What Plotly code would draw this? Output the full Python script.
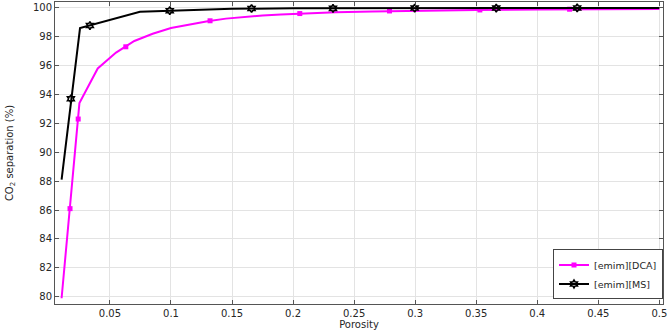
import plotly.graph_objects as go

# [emim][DCA] curve
dca_x = [0.0104, 0.025, 0.04, 0.055, 0.07, 0.085, 0.1, 0.115, 0.13, 0.145, 0.16, 0.175, 0.19, 0.205,
         0.235, 0.265, 0.3, 0.35, 0.4, 0.45, 0.5]
dca_y = [79.9, 93.4, 95.8, 96.9, 97.7, 98.2, 98.6, 98.85, 99.07, 99.25, 99.37, 99.47, 99.54, 99.6,
         99.69, 99.75, 99.8, 99.85, 99.88, 99.9, 99.92]
dca_mx = [0.0173, 0.024, 0.063, 0.132, 0.2055, 0.279, 0.353, 0.4265]
dca_my = [86.1, 92.3, 97.3, 99.1, 99.6, 99.78, 99.85, 99.9]

# [emim][MS] curve
ms_x = [0.0104, 0.0255, 0.0746, 0.1, 0.125, 0.15, 0.2, 0.3, 0.4, 0.5]
ms_y = [88.1, 98.6, 99.73, 99.8, 99.88, 99.93, 99.96, 99.98, 99.99, 99.99]
ms_mx = [0.018, 0.0336, 0.099, 0.166, 0.2327, 0.2996, 0.3664, 0.4327]
ms_my = [93.7, 98.77, 99.8, 99.95, 99.96, 99.98, 99.98, 99.99]

x_ticks = [0.05, 0.1, 0.15, 0.2, 0.25, 0.3, 0.35, 0.4, 0.45, 0.5]
x_ticktext = ["0.05", "0.1", "0.15", "0.2", "0.25", "0.3", "0.35", "0.4", "0.45", "0.5"]
y_ticks = [80, 82, 84, 86, 88, 90, 92, 94, 96, 98, 100]

MAG = "#FF00FF"
BLK = "#000000"
FONT = "DejaVu Sans"

fig = go.Figure()

fig.add_trace(go.Scatter(x=dca_x, y=dca_y, mode="lines", line=dict(color=MAG, width=2),
                         showlegend=False, hoverinfo="skip"))
fig.add_trace(go.Scatter(x=dca_mx, y=dca_my, mode="markers",
                         marker=dict(symbol="square", size=5, color=MAG),
                         showlegend=False))
fig.add_trace(go.Scatter(x=ms_x, y=ms_y, mode="lines", line=dict(color=BLK, width=2),
                         showlegend=False, hoverinfo="skip"))
fig.add_trace(go.Scatter(x=ms_mx, y=ms_my, mode="markers",
                         marker=dict(symbol="hexagram-open", size=6, color=BLK,
                                     line=dict(color=BLK, width=1.6)),
                         showlegend=False))

# legend proxies
fig.add_trace(go.Scatter(x=[None], y=[None], mode="lines+markers", name="[emim][DCA]",
                         line=dict(color=MAG, width=2),
                         marker=dict(symbol="square", size=5, color=MAG)))
fig.add_trace(go.Scatter(x=[None], y=[None], mode="lines+markers", name="[emim][MS]",
                         line=dict(color=BLK, width=2),
                         marker=dict(symbol="hexagram-open", size=6, color=BLK,
                                     line=dict(color=BLK, width=1.6))))

axis_common = dict(
    showgrid=True, gridcolor="#e3e3e3", gridwidth=1,
    showline=True, linecolor="#555555", linewidth=1, mirror="ticks",
    ticks="inside", ticklen=4, tickcolor="#555555",
    zeroline=False,
    tickfont=dict(family=FONT, size=10, color="#262626"),
)

fig.update_xaxes(range=[0.005, 0.503], tickvals=x_ticks, ticktext=x_ticktext,
                 title=dict(text="Porosity", font=dict(family=FONT, size=10, color="#262626"),
                            standoff=2),
                 **axis_common)
fig.update_yaxes(range=[79.5, 100.4], tickvals=y_ticks,
                 title=dict(text="CO<sub>2</sub> separation (%)",
                            font=dict(family=FONT, size=10, color="#262626"), standoff=17),
                 **axis_common)

fig.update_layout(
    width=669, height=332,
    margin=dict(l=55, r=6, t=2, b=28),
    paper_bgcolor="white", plot_bgcolor="white",
    font=dict(family=FONT, size=10, color="#262626"),
    legend=dict(x=1, y=0.015, xanchor="right", yanchor="bottom",
                bgcolor="white", bordercolor="#444444", borderwidth=1,
                font=dict(family=FONT, size=9.5, color="#262626"),
                tracegroupgap=0, itemwidth=30),
)

fig.write_html("out.html", config={"displayModeBar": False},
               post_script="document.body.style.margin='0';document.body.style.overflow='hidden';")
